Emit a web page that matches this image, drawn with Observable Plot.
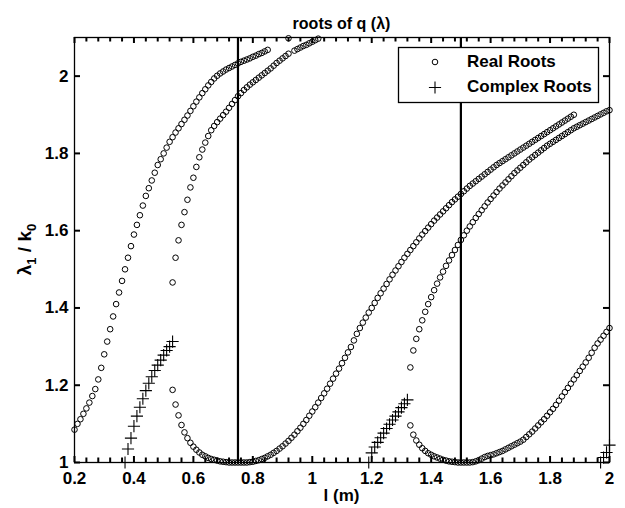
<!DOCTYPE html>
<html><head><meta charset="utf-8">
<script src="https://cdn.jsdelivr.net/npm/d3@7"></script>
<script src="https://cdn.jsdelivr.net/npm/@observablehq/plot@0.6"></script>
<style>
html,body{margin:0;padding:0;background:#fff;}
</style></head><body><div id="chart"></div>
<script>
// l (m) sampling step of the computed roots
const step = 0.01;

// Real roots (circles): start l and lambda1/k0 values per branch
const realA_l0 = 0.20;
const realA_v = [1.085,1.10,1.112,1.126,1.14,1.155,1.172,1.19,1.215,1.245,
  1.28,1.313,1.345,1.378,1.41,1.44,1.47,1.50,1.53,1.56,
  1.59,1.615,1.64,1.665,1.69,1.71,1.73,1.75,1.77,1.785,
  1.80,1.815,1.83,1.842,1.854,1.865,1.876,1.887,1.898,1.91,
  1.922,1.934,1.945,1.956,1.966,1.976,1.985,1.994,2.001,2.007,
  2.012,2.017,2.021,2.025,2.029,2.033,2.037,2.04,2.043,2.046,
  2.05,2.053,2.057,2.06,2.064,2.068];
const realTop_l = [0.92];
const realTop_v = [2.098];
const realB_l0 = 0.53;
const realB_v = [1.466,1.53,1.575,1.615,1.648,1.68,1.712,1.737,1.765,1.79,
  1.81,1.828,1.845,1.86,1.871,1.881,1.89,1.899,1.908,1.918,
  1.928,1.938,1.948,1.956,1.964,1.971,1.978,1.984,1.99,1.996,
  2.002,2.008,2.014,2.02,2.027,2.034,2.04,2.046,2.052,2.058];
const realB2_l0 = 0.94;
const realB2_v = [2.066,2.07,2.074,2.078,2.081,2.085,2.089,2.093,2.097];
const realC_l0 = 0.53;
const realC_v = [1.188,1.15,1.122,1.097,1.078,1.063,1.051,
  1.041,1.033,1.026,1.02,1.016,1.012,1.009,1.007,1.005,1.003,
  1.002,1.001,1.0,1.0,1.0,1.0,1.0,1.0,1.0,1.001,
  1.002,1.004,1.006,1.009,1.012,1.016,1.02,1.025,1.03,1.036,
  1.042,1.049,1.056,1.064,1.072,1.081,1.09,1.10,1.11,1.121,
  1.132,1.143,1.155,1.167,1.179,1.191,1.204,1.217,1.23,1.243,
  1.257,1.271,1.285,1.299,1.316,1.333,1.348,1.362,1.375,1.388,
  1.40,1.413,1.426,1.438,1.45,1.462,1.474,1.486,1.497,1.508,
  1.519,1.53,1.54,1.55,1.56,1.57,1.58,1.59,1.599,1.608,
  1.617,1.626,1.634,1.642,1.65,1.658,1.666,1.674,1.681,1.688,
  1.695,1.702,1.709,1.716,1.722,1.728,1.734,1.74,1.746,1.752,
  1.758,1.764,1.77,1.775,1.78,1.785,1.79,1.795,1.80,1.805,
  1.81,1.815,1.82,1.825,1.83,1.835,1.84,1.845,1.85,1.855,
  1.86,1.865,1.87,1.875,1.88,1.885,1.89,1.895,1.90];
const realD_l0 = 1.33;
const realD_v = [1.246,1.29,1.32,1.345,1.368,1.39,1.41,
  1.428,1.446,1.463,1.479,1.494,1.509,1.523,1.537,1.55,1.563,
  1.576,1.588,1.60,1.611,1.622,1.633,1.643,1.653,1.663,1.673,
  1.682,1.691,1.70,1.709,1.717,1.725,1.733,1.741,1.749,1.756,
  1.763,1.77,1.777,1.784,1.79,1.796,1.802,1.808,1.814,1.82,
  1.825,1.83,1.835,1.84,1.845,1.85,1.855,1.86,1.865,1.869,
  1.873,1.877,1.881,1.885,1.889,1.893,1.897,1.901,1.905,1.909,1.912];
const realE_l0 = 1.33;
const realE_v = [1.096,1.072,1.057,1.046,1.037,1.03,1.024,
  1.02,1.016,1.013,1.01,1.007,1.005,1.003,1.002,1.001,1.0,
  1.0,1.0,1.0,1.0,1.001,1.003,1.006,1.01,1.014,1.017,
  1.019,1.021,1.024,1.027,1.03,1.034,1.038,1.042,1.046,1.05,
  1.054,1.059,1.066,1.073,1.08,1.088,1.096,1.104,1.112,1.121,
  1.13,1.139,1.149,1.16,1.171,1.182,1.193,1.204,1.215,1.226,
  1.237,1.248,1.259,1.271,1.284,1.297,1.308,1.318,1.328,1.338,1.348];

// Complex roots (plus signs)
const cplxA_l0 = 0.37;
const cplxA_v = [1.0,1.035,1.063,1.094,1.12,1.143,1.165,1.186,1.205,1.222,1.238,1.252,1.265,1.278,1.29,1.30,1.313];
const cplxB_l0 = 1.19;
const cplxB_v = [1.0,1.025,1.04,1.052,1.064,1.076,1.088,1.099,1.11,1.12,1.131,1.142,1.152,1.162];
const cplxC_l0 = 1.97;
const cplxC_v = [1.0,1.013,1.026,1.045];

// Reference lines
const refLines = [0.75, 1.5];

// Axes ticks
const xTicks = [0.2,0.4,0.6,0.8,1,1.2,1.4,1.6,1.8,2];
const xMinorTicks = [0.24,0.28,0.32,0.36,0.44,0.48,0.52,0.56,0.64,0.68,0.72,0.76,0.84,0.88,0.92,0.96,
  1.04,1.08,1.12,1.16,1.24,1.28,1.32,1.36,1.44,1.48,1.52,1.56,1.64,1.68,1.72,1.76,1.84,1.88,1.92,1.96];
const yTicks = [1,1.2,1.4,1.6,1.8,2];

// Texts
const titleText = "roots of q (λ)";
const xLabel = "l (m)";
const legendLabels = ["Real Roots", "Complex Roots"];

function branch(l0, vals) {
  return vals.map((v, i) => ({l: Math.round((l0 + i * step) * 100) / 100, v}));
}
const realRoots = [
  ...branch(realA_l0, realA_v),
  ...realTop_l.map((l, i) => ({l, v: realTop_v[i]})),
  ...branch(realB_l0, realB_v),
  ...branch(realB2_l0, realB2_v),
  ...branch(realC_l0, realC_v),
  ...branch(realD_l0, realD_v),
  ...branch(realE_l0, realE_v)
];
const complexRoots = [
  ...branch(cplxA_l0, cplxA_v),
  ...branch(cplxB_l0, cplxB_v),
  ...branch(cplxC_l0, cplxC_v)
];

const FONT = "'Liberation Sans', Arial, Helvetica, sans-serif";
const W = 625, H = 508, mL = 74, mR = 16, mT = 37, mB = 46;
const xDomain = [0.2, 2], yDomain = [1, 2.1];
const circleR = 2.8, plusR = 4;
const majorLen = 6, minorLen = 4.5; // pixels
const xPerPx = (xDomain[1] - xDomain[0]) / (W - mL - mR);
const yPerPx = (yDomain[1] - yDomain[0]) / (H - mT - mB);
const yMaj = majorLen * yPerPx, yMin = minorLen * yPerPx, xMaj = majorLen * xPerPx;
const TK = {stroke: "black", strokeWidth: 2};

const plot = Plot.plot({
  width: W, height: H,
  marginLeft: mL, marginRight: mR, marginTop: mT, marginBottom: mB,
  style: {fontFamily: FONT, fontSize: "17px", fontWeight: "bold", color: "black", background: "white"},
  x: {domain: xDomain},
  y: {domain: yDomain},
  marks: [
    Plot.ruleX(refLines, {stroke: "black", strokeWidth: 2.2}),
    Plot.dot(realRoots, {x: "l", y: "v", r: circleR, stroke: "black", strokeWidth: 1, fill: "none"}),
    Plot.dot(complexRoots, {x: "l", y: "v", symbol: "plus", r: plusR, stroke: "black", strokeWidth: 1.1}),
    // inward ticks on all four sides
    Plot.ruleX(xTicks, {x: d => d, y1: yDomain[0], y2: yDomain[0] + yMaj, ...TK}),
    Plot.ruleX(xMinorTicks, {x: d => d, y1: yDomain[0], y2: yDomain[0] + yMin, ...TK}),
    Plot.ruleX(xTicks, {x: d => d, y1: yDomain[1], y2: yDomain[1] - yMaj, ...TK}),
    Plot.ruleX(xMinorTicks, {x: d => d, y1: yDomain[1], y2: yDomain[1] - yMin, ...TK}),
    Plot.ruleY(yTicks, {y: d => d, x1: xDomain[0], x2: xDomain[0] + xMaj, ...TK}),
    Plot.ruleY(yTicks, {y: d => d, x1: xDomain[1], x2: xDomain[1] - xMaj, ...TK}),
    Plot.frame({stroke: "black", strokeWidth: 1.3}),
    Plot.axisX(xTicks, {anchor: "bottom", tickSize: 0, tickPadding: 9, tickFormat: d => String(d), label: null}),
    Plot.axisY(yTicks, {anchor: "left", tickSize: 0, tickPadding: 6, tickFormat: d => String(d), label: null})
  ]
});

const svg = d3.select(plot);
const cx = (mL + (W - mR)) / 2;
const cy = (mT + (H - mB)) / 2;

svg.append("text").attr("x", cx).attr("y", 29).attr("text-anchor", "middle")
  .style("font-family", FONT).style("font-size", "16px").style("font-weight", "bold")
  .text(titleText);

svg.append("text").attr("x", cx).attr("y", 501).attr("text-anchor", "middle")
  .style("font-family", FONT).style("font-size", "17px").style("font-weight", "bold")
  .text(xLabel);

const yl = svg.append("text").attr("transform", `translate(31,${cy}) rotate(-90)`).attr("text-anchor", "middle")
  .style("font-family", FONT).style("font-size", "19px").style("font-weight", "bold");
yl.append("tspan").text("λ");
yl.append("tspan").attr("dy", 5).style("font-size", "13px").text("1");
yl.append("tspan").attr("dy", -5).text(" / k");
yl.append("tspan").attr("dy", 5).style("font-size", "13px").text("0");

// Legend
const lg = svg.append("g");
lg.append("rect").attr("x", 398.5).attr("y", 47.5).attr("width", 200).attr("height", 55)
  .attr("fill", "white").attr("stroke", "black").attr("stroke-width", 1.3);
lg.append("circle").attr("cx", 435).attr("cy", 62).attr("r", circleR)
  .attr("fill", "none").attr("stroke", "black");
lg.append("path").attr("transform", "translate(435,87.5)")
  .attr("d", d3.symbol(d3.symbolPlus, Math.PI * plusR * plusR)())
  .attr("fill", "none").attr("stroke", "black").attr("stroke-width", 1.1);
legendLabels.forEach((t, i) => {
  lg.append("text").attr("x", 467).attr("y", 67 + i * 25).attr("text-anchor", "start")
    .style("font-family", FONT).style("font-size", "17px").style("font-weight", "bold")
    .text(t);
});

document.getElementById("chart").appendChild(plot);
</script>
</body></html>
